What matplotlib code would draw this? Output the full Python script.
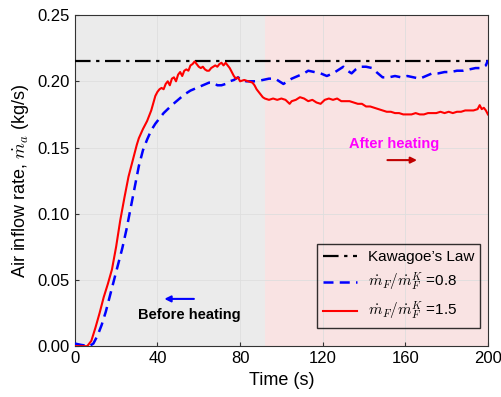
import matplotlib
matplotlib.use('Agg')
import matplotlib.pyplot as plt

# readings from the figure (time in s, air inflow in kg/s)
t_red = [0, 6, 8, 10, 12, 14, 16, 18, 20, 22, 24, 26, 28, 30, 31, 33, 35, 37, 39, 40,
         41, 42, 43, 44, 45, 46, 47, 48, 49, 50, 51, 52, 53, 54, 55, 56, 57, 58, 59, 60,
         61, 62, 63, 64, 65, 66, 67, 68, 69, 70, 71, 72, 73, 74, 75, 76, 77, 78, 79, 80,
         82, 84, 86, 87, 88, 89, 90, 91, 92, 94, 96, 98, 100, 102, 104, 105, 107, 109, 111, 113,
         115, 117, 119, 121, 123, 125, 127, 129, 131, 133, 135, 137, 139, 141, 143, 145, 147, 149, 151, 153,
         155, 157, 159, 161, 163, 165, 167, 169, 171, 173, 175, 177, 179, 181, 183, 185, 187, 189, 191, 193,
         195, 196, 197, 198, 199, 200]
m_red = [0.0, 0.0, 0.004, 0.014, 0.025, 0.037, 0.047, 0.058, 0.075, 0.095, 0.112, 0.128, 0.140, 0.152, 0.157, 0.164, 0.170, 0.178, 0.189, 0.192,
         0.194, 0.195, 0.194, 0.198, 0.200, 0.197, 0.202, 0.203, 0.200, 0.205, 0.207, 0.204, 0.208, 0.209, 0.208, 0.212, 0.213, 0.215, 0.213, 0.211,
         0.210, 0.211, 0.209, 0.208, 0.208, 0.210, 0.211, 0.212, 0.211, 0.213, 0.214, 0.212, 0.214, 0.212, 0.210, 0.207, 0.204, 0.202, 0.203, 0.200,
         0.201, 0.200, 0.199, 0.197, 0.194, 0.192, 0.190, 0.188, 0.187, 0.186, 0.187, 0.186, 0.187, 0.186, 0.183, 0.185, 0.186, 0.188, 0.187, 0.185,
         0.186, 0.184, 0.183, 0.186, 0.187, 0.186, 0.187, 0.185, 0.185, 0.185, 0.184, 0.183, 0.183, 0.181, 0.181, 0.180, 0.179, 0.178, 0.177, 0.177,
         0.176, 0.176, 0.175, 0.175, 0.175, 0.176, 0.175, 0.175, 0.176, 0.176, 0.176, 0.177, 0.176, 0.177, 0.176, 0.177, 0.177, 0.178, 0.178, 0.178,
         0.179, 0.182, 0.179, 0.180, 0.178, 0.175]

t_blue = [0, 3, 7, 9, 11, 13, 15, 17, 19, 21, 23, 25, 27, 29, 31, 33, 35, 37, 39, 41,
          43, 45, 47, 50, 53, 56, 59, 62, 65, 67, 69, 71, 73, 75, 77, 79, 81, 83, 85, 88,
          91, 94, 97, 99, 101, 103, 105, 108, 111, 113, 116, 119, 122, 125, 127, 130, 132, 134, 136, 138,
          141, 144, 146, 149, 152, 155, 158, 161, 164, 167, 170, 173, 176, 179, 182, 185, 188, 191, 194, 197,
          199, 200]
m_blue = [0.002, 0.001, 0.0, 0.002, 0.008, 0.016, 0.026, 0.038, 0.050, 0.062, 0.074, 0.088, 0.104, 0.120, 0.136, 0.148, 0.156, 0.163, 0.168, 0.172,
          0.176, 0.179, 0.182, 0.186, 0.190, 0.193, 0.195, 0.197, 0.199, 0.199, 0.197, 0.197, 0.198, 0.200, 0.201, 0.203, 0.201, 0.200, 0.200, 0.200,
          0.201, 0.202, 0.202, 0.200, 0.198, 0.200, 0.202, 0.204, 0.206, 0.208, 0.207, 0.206, 0.204, 0.206, 0.208, 0.211, 0.208, 0.206, 0.209, 0.211,
          0.211, 0.210, 0.207, 0.203, 0.203, 0.204, 0.203, 0.204, 0.203, 0.202, 0.204, 0.206, 0.206, 0.207, 0.207, 0.208, 0.208, 0.209, 0.210, 0.210,
          0.212, 0.216]

kawagoe = 0.215
heating_time = 92
x_ticks = [0, 40, 80, 120, 160, 200]
y_ticks = [0.00, 0.05, 0.10, 0.15, 0.20, 0.25]

plt.rcParams['font.family'] = ['Liberation Sans', 'DejaVu Sans']
plt.rcParams['mathtext.fontset'] = 'cm'

fig = plt.figure(figsize=(5.02, 3.97), dpi=100)
ax = fig.add_axes([0.149, 0.128, 0.823, 0.834])

ax.axvspan(0, heating_time, color='#ebebeb', zorder=0, lw=0)
ax.axvspan(heating_time, 200, color='#f9e3e3', zorder=0, lw=0)
ax.grid(True, color='#dedede', linewidth=0.6, zorder=1)

ax.axhline(kawagoe, color='black', linestyle=(0, (7, 2.5, 1.5, 2.5)), linewidth=1.6,
           label='Kawagoe’s Law', zorder=3)
ax.plot(t_blue, m_blue, color='#0000ff', linestyle=(0, (4, 2.5)), linewidth=1.8,
        label=r'$\dot{m}_F/\dot{m}_F^K$ =0.8', zorder=4)
ax.plot(t_red, m_red, color='#ff0000', linewidth=1.5,
        label=r'$\dot{m}_F/\dot{m}_F^K$ =1.5', zorder=5)

ax.annotate('', xy=(42, 0.0357), xytext=(59, 0.0357),
            arrowprops=dict(arrowstyle='-|>', color='#0000ff', lw=1.5, mutation_scale=9))
ax.text(55.5, 0.0234, 'Before heating', fontsize=10.5, fontweight='bold', ha='center', va='center')
ax.annotate('', xy=(167, 0.1405), xytext=(150, 0.1405),
            arrowprops=dict(arrowstyle='-|>', color='#c00000', lw=1.5, mutation_scale=9))
ax.text(154.7, 0.153, 'After heating', fontsize=10.5, fontweight='bold', color='#ff00ff',
        ha='center', va='center')

ax.set_xlim(0, 200)
ax.set_ylim(0, 0.25)
ax.set_xticks(x_ticks)
ax.set_yticks(y_ticks)
ax.set_yticklabels([f'{v:.2f}' for v in y_ticks])
ax.tick_params(direction='in', labelsize=12, length=3, color='#333333')
for s in ax.spines.values():
    s.set_color('#333333')
ax.set_xlabel('Time (s)', fontsize=13, labelpad=4)
ax.set_ylabel(r'Air inflow rate, $\dot{m}_a$ (kg/s)', fontsize=13, labelpad=5)

leg = ax.legend(loc='lower right', bbox_to_anchor=(0.981, 0.054), borderaxespad=0,
                fontsize=11, frameon=True, fancybox=False, handlelength=2.2,
                handletextpad=0.7, labelspacing=0.45)
leg.get_frame().set_edgecolor('black')
leg.get_frame().set_facecolor('none')
leg.get_frame().set_linewidth(1.0)

fig.savefig('out.png', dpi=100)
